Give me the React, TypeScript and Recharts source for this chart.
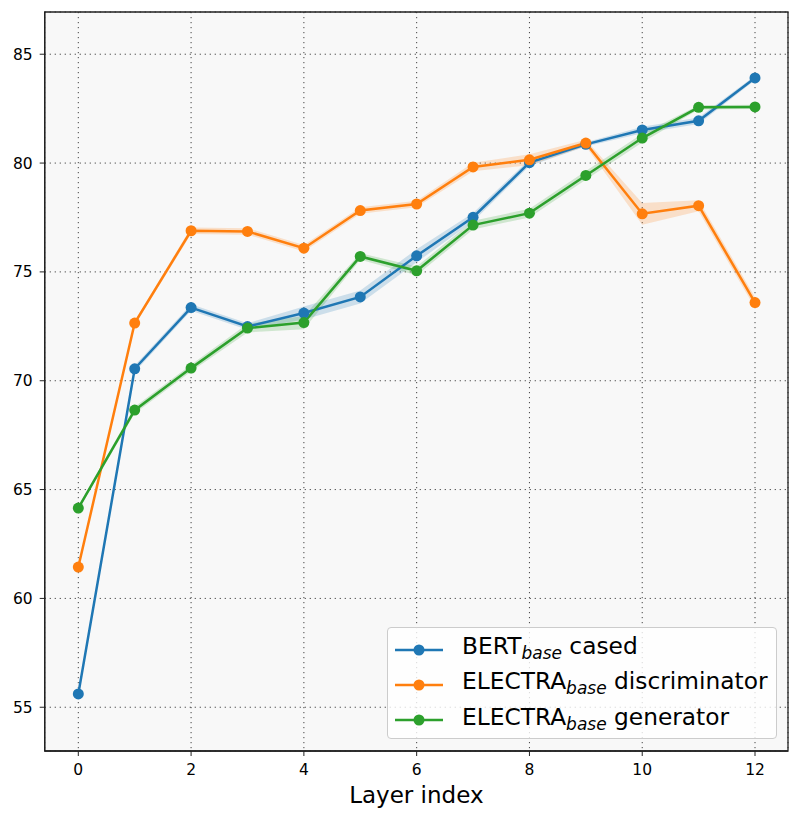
import React from 'react';
import { ComposedChart, Line, Area, XAxis, YAxis, CartesianGrid, ReferenceArea } from 'recharts';

const layers = [0, 1, 2, 3, 4, 5, 6, 7, 8, 9, 10, 11, 12];

const bertMean = [55.61, 70.55, 73.36, 72.49, 73.11, 73.85, 75.74, 77.51, 80.02, 80.86, 81.52, 81.94, 83.91];
const bertErr = [0.1, 0.15, 0.15, 0.15, 0.3, 0.3, 0.3, 0.2, 0.15, 0.1, 0.15, 0.15, 0.1];

const discMean = [61.44, 72.65, 76.89, 76.86, 76.09, 77.82, 78.12, 79.82, 80.15, 80.92, 77.67, 78.04, 73.59];
const discErr = [0.1, 0.1, 0.15, 0.15, 0.15, 0.15, 0.15, 0.2, 0.25, 0.15, 0.5, 0.25, 0.25];

const genMean = [64.15, 68.65, 70.58, 72.42, 72.67, 75.71, 75.05, 77.15, 77.7, 79.43, 81.15, 82.56, 82.58];
const genErr = [0.1, 0.15, 0.15, 0.2, 0.3, 0.15, 0.2, 0.2, 0.2, 0.2, 0.2, 0.1, 0.1];

const xTicks = [0, 2, 4, 6, 8, 10, 12];
const yTicks = [55, 60, 65, 70, 75, 80, 85];

const BLUE = '#1f77b4';
const ORANGE = '#ff7f0e';
const GREEN = '#2ca02c';
const FONT = '"DejaVu Sans", sans-serif';

const data = layers.map((layer, i) => ({
  layer,
  bert: bertMean[i],
  bertBand: [bertMean[i] - bertErr[i], bertMean[i] + bertErr[i]],
  disc: discMean[i],
  discBand: [discMean[i] - discErr[i], discMean[i] + discErr[i]],
  gen: genMean[i],
  genBand: [genMean[i] - genErr[i], genMean[i] + genErr[i]],
}));

const legendItems = [
  { color: BLUE, head: 'BERT', tail: ' cased' },
  { color: ORANGE, head: 'ELECTRA', tail: ' discriminator' },
  { color: GREEN, head: 'ELECTRA', tail: ' generator' },
];

const xDomain = [-0.596, 12.585];
const yDomain = [52.99, 86.94];

const tickStyle = { fontSize: 15.5, fill: '#000', fontFamily: FONT };
const spine = { stroke: '#222', strokeWidth: 1.3 };

export default function App() {
  return (
    <div style={{ position: 'absolute', left: 0, top: 0, width: 801, height: 820, background: '#fff' }}>
      <ComposedChart
        width={801}
        height={820}
        data={data}
        margin={{ top: 12, right: 13, left: 0, bottom: 0 }}
      >
        <CartesianGrid fill="#f8f8f8" stroke="#444" strokeDasharray="1.2 3.8" strokeWidth={1} />
        <XAxis
          dataKey="layer"
          type="number"
          domain={xDomain}
          ticks={xTicks}
          allowDataOverflow
          height={69}
          tickSize={5}
          tickMargin={8}
          tick={tickStyle}
          axisLine={spine}
          tickLine={{ stroke: '#222' }}
          label={{ value: 'Layer index', position: 'insideBottom', offset: 17, fontSize: 23, fill: '#000', fontFamily: FONT }}
        />
        <YAxis
          type="number"
          domain={yDomain}
          ticks={yTicks}
          allowDataOverflow
          width={44.7}
          tickSize={5}
          tickMargin={7}
          tick={tickStyle}
          axisLine={spine}
          tickLine={{ stroke: '#222' }}
        />
        {/* frame round the plot area (matplotlib spines) */}
        <ReferenceArea
          x1={xDomain[0]}
          x2={xDomain[1]}
          y1={yDomain[0]}
          y2={yDomain[1]}
          fill="none"
          stroke="#222"
          strokeWidth={1.3}
          ifOverflow="visible"
        />
        <Area dataKey="bertBand" type="linear" stroke="none" fill={BLUE} fillOpacity={0.2} isAnimationActive={false} activeDot={false} />
        <Line dataKey="bert" type="linear" stroke={BLUE} strokeWidth={2.5}
          dot={{ r: 5.5, fill: BLUE, stroke: BLUE, strokeWidth: 0 }} activeDot={false} isAnimationActive={false} />
        <Area dataKey="discBand" type="linear" stroke="none" fill={ORANGE} fillOpacity={0.2} isAnimationActive={false} activeDot={false} />
        <Line dataKey="disc" type="linear" stroke={ORANGE} strokeWidth={2.5}
          dot={{ r: 5.5, fill: ORANGE, stroke: ORANGE, strokeWidth: 0 }} activeDot={false} isAnimationActive={false} />
        <Area dataKey="genBand" type="linear" stroke="none" fill={GREEN} fillOpacity={0.2} isAnimationActive={false} activeDot={false} />
        <Line dataKey="gen" type="linear" stroke={GREEN} strokeWidth={2.5}
          dot={{ r: 5.5, fill: GREEN, stroke: GREEN, strokeWidth: 0 }} activeDot={false} isAnimationActive={false} />
      </ComposedChart>

      {/* legend box, lower right like matplotlib loc="lower right" */}
      <div
        style={{
          position: 'absolute',
          left: 387,
          top: 627,
          width: 390,
          height: 112,
          boxSizing: 'border-box',
          border: '1px solid #cccccc',
          borderRadius: 4,
          background: 'rgba(255,255,255,0.8)',
          paddingTop: 4,
          fontFamily: FONT,
          fontSize: 23.3,
          color: '#000',
        }}
      >
        {legendItems.map((item) => (
          <div key={item.head + item.tail} style={{ display: 'flex', alignItems: 'center', height: 35.3 }}>
            <svg width={48} height={14} style={{ marginLeft: 7, marginRight: 19, flexShrink: 0 }}>
              <line x1={0} y1={7} x2={48} y2={7} stroke={item.color} strokeWidth={2.5} />
              <circle cx={24} cy={7} r={5.5} fill={item.color} />
            </svg>
            <span style={{ whiteSpace: 'nowrap', lineHeight: '24px' }}>
              {item.head}
              <span style={{ fontSize: 17, fontStyle: 'italic', verticalAlign: '-0.3em' }}>base</span>
              {item.tail}
            </span>
          </div>
        ))}
      </div>
    </div>
  );
}
